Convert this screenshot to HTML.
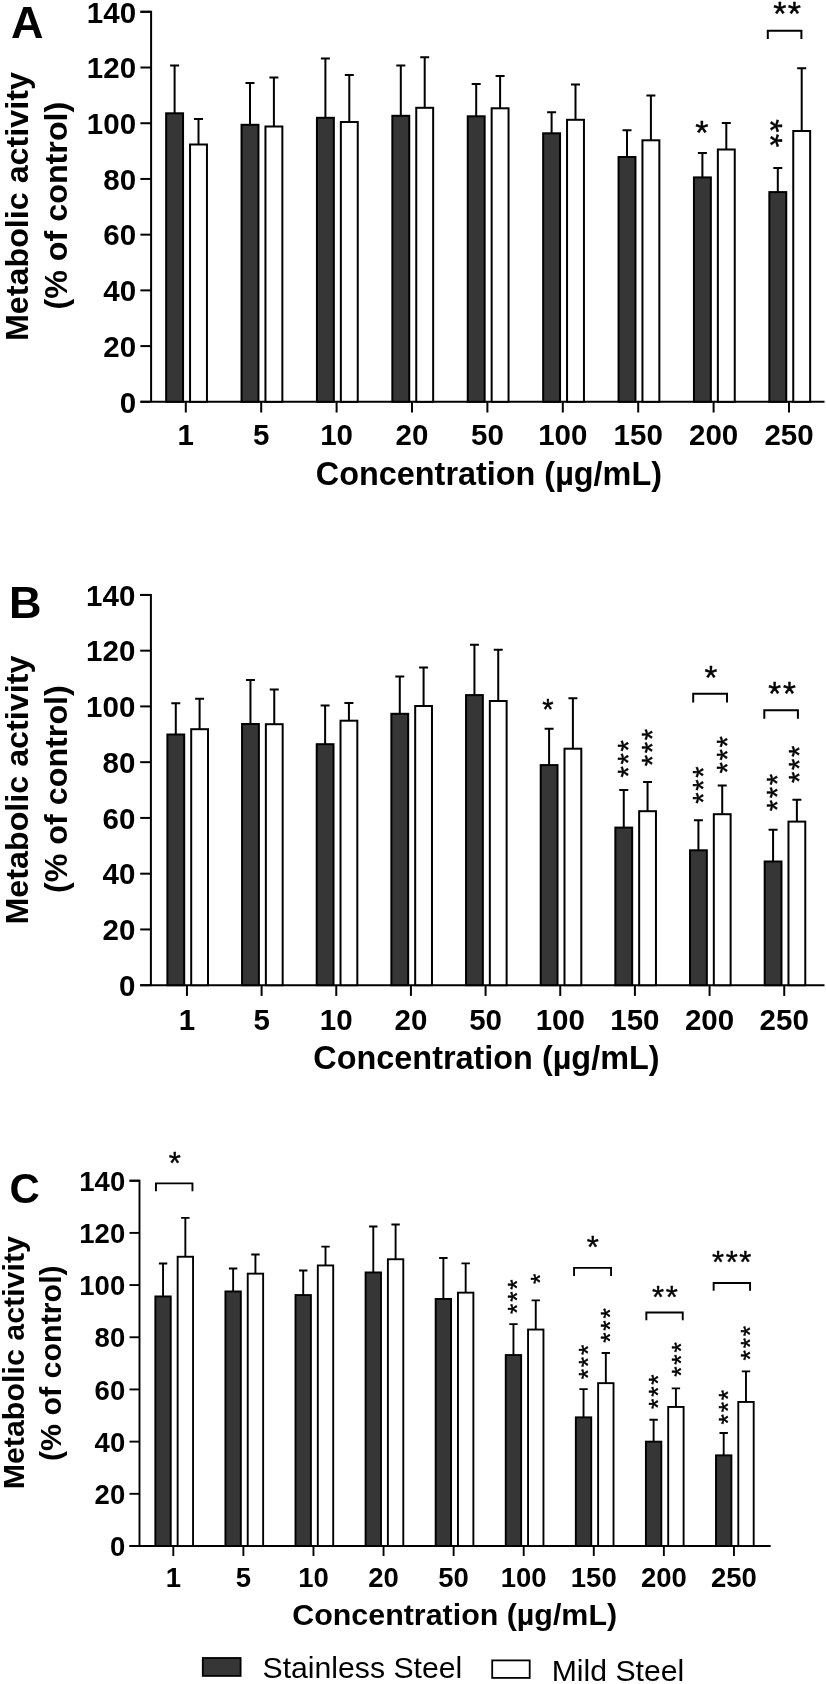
<!DOCTYPE html>
<html><head><meta charset="utf-8"><style>
html,body{margin:0;padding:0;background:#fff;}
body{width:826px;height:1684px;overflow:hidden;}
svg{display:block;filter:grayscale(1);}
</style></head><body>
<svg width="826" height="1684" viewBox="0 0 826 1684">
<rect width="826" height="1684" fill="#fff"/>
<g stroke="#000" stroke-width="2.0" fill="none" stroke-linecap="butt"><path d="M140.4 11.8H151.1V401.8" /><path d="M140.4 401.8H151.1" /><path d="M140.4 346.09H151.1" /><path d="M140.4 290.37H151.1" /><path d="M140.4 234.66H151.1" /><path d="M140.4 178.94H151.1" /><path d="M140.4 123.23H151.1" /><path d="M140.4 67.51H151.1" /><path d="M140.4 11.8H151.1" /><path d="M140.4 401.8H824.5" /><path d="M185.8 401.8v10.7" /><path d="M174.6 113.3V65.4M170.1 65.4H179.1" /><rect x="166.15" y="113.3" width="16.9" height="288.5" fill="#363636" /><path d="M198.5 144.5V119M194 119H203" /><rect x="190.05" y="144.5" width="16.9" height="257.3" fill="#fff" /><path d="M261.2 401.8v10.7" /><path d="M250 124.8V82.9M245.5 82.9H254.5" /><rect x="241.55" y="124.8" width="16.9" height="277" fill="#363636" /><path d="M273.9 126.5V77.4M269.4 77.4H278.4" /><rect x="265.45" y="126.5" width="16.9" height="275.3" fill="#fff" /><path d="M336.6 401.8v10.7" /><path d="M325.4 117.8V58.5M320.9 58.5H329.9" /><rect x="316.95" y="117.8" width="16.9" height="284" fill="#363636" /><path d="M349.3 122V75.1M344.8 75.1H353.8" /><rect x="340.85" y="122" width="16.9" height="279.8" fill="#fff" /><path d="M412 401.8v10.7" /><path d="M400.8 115.8V65.4M396.3 65.4H405.3" /><rect x="392.35" y="115.8" width="16.9" height="286" fill="#363636" /><path d="M424.7 107.8V57.2M420.2 57.2H429.2" /><rect x="416.25" y="107.8" width="16.9" height="294" fill="#fff" /><path d="M487.4 401.8v10.7" /><path d="M476.2 116.3V84.1M471.7 84.1H480.7" /><rect x="467.75" y="116.3" width="16.9" height="285.5" fill="#363636" /><path d="M500.1 108.3V75.9M495.6 75.9H504.6" /><rect x="491.65" y="108.3" width="16.9" height="293.5" fill="#fff" /><path d="M562.8 401.8v10.7" /><path d="M551.6 133.3V112.3M547.1 112.3H556.1" /><rect x="543.15" y="133.3" width="16.9" height="268.5" fill="#363636" /><path d="M575.5 119.8V84.4M571 84.4H580" /><rect x="567.05" y="119.8" width="16.9" height="282" fill="#fff" /><path d="M638.2 401.8v10.7" /><path d="M627 157V130.3M622.5 130.3H631.5" /><rect x="618.55" y="157" width="16.9" height="244.8" fill="#363636" /><path d="M650.9 140.3V95.4M646.4 95.4H655.4" /><rect x="642.45" y="140.3" width="16.9" height="261.5" fill="#fff" /><path d="M713.6 401.8v10.7" /><path d="M702.4 177.4V152.9M697.9 152.9H706.9" /><rect x="693.95" y="177.4" width="16.9" height="224.4" fill="#363636" /><path d="M726.3 149.5V123.1M721.8 123.1H730.8" /><rect x="717.85" y="149.5" width="16.9" height="252.3" fill="#fff" /><path d="M789 401.8v10.7" /><path d="M777.8 192.1V168M773.3 168H782.3" /><rect x="769.35" y="192.1" width="16.9" height="209.7" fill="#363636" /><path d="M801.7 131V68.3M797.2 68.3H806.2" /><rect x="793.25" y="131" width="16.9" height="270.8" fill="#fff" /><path d="M767.8 39V30.7H801.4V39" /></g>
<g font-family="Liberation Sans" font-weight="bold" font-size="29.5" fill="#000"><text x="136.1" y="412.6" text-anchor="end">0</text><text x="136.1" y="356.89" text-anchor="end">20</text><text x="136.1" y="301.17" text-anchor="end">40</text><text x="136.1" y="245.46" text-anchor="end">60</text><text x="136.1" y="189.74" text-anchor="end">80</text><text x="136.1" y="134.03" text-anchor="end">100</text><text x="136.1" y="78.31" text-anchor="end">120</text><text x="136.1" y="22.6" text-anchor="end">140</text><text x="185.8" y="445.4" text-anchor="middle">1</text><text x="261.2" y="445.4" text-anchor="middle">5</text><text x="336.6" y="445.4" text-anchor="middle">10</text><text x="412" y="445.4" text-anchor="middle">20</text><text x="487.4" y="445.4" text-anchor="middle">50</text><text x="562.8" y="445.4" text-anchor="middle">100</text><text x="638.2" y="445.4" text-anchor="middle">150</text><text x="713.6" y="445.4" text-anchor="middle">200</text><text x="789" y="445.4" text-anchor="middle">250</text></g>
<text x="488.9" y="485.2" text-anchor="middle" font-family="Liberation Sans" font-weight="bold" font-size="32.4">Concentration (µg/mL)</text>
<text transform="translate(27.8 206.6) rotate(-90)" text-anchor="middle" font-family="Liberation Sans" font-weight="bold" font-size="32.25">Metabolic activity</text>
<text transform="translate(67.2 205.6) rotate(-90)" text-anchor="middle" font-family="Liberation Sans" font-weight="bold" font-size="32.25">(% of control)</text>
<text x="11" y="37.8" font-family="Liberation Sans" font-weight="bold" font-size="45">A</text>
<text x="701.9" y="144.16" text-anchor="middle" font-family="Liberation Sans" font-size="34" letter-spacing="0" stroke="#000" stroke-width="0.4" stroke-linejoin="round">*</text>
<text x="787.85" y="25.36" text-anchor="middle" font-family="Liberation Sans" font-size="34" letter-spacing="1.4" stroke="#000" stroke-width="0.4" stroke-linejoin="round">**</text>
<text transform="translate(758.99 134.05) rotate(90)" text-anchor="middle" font-family="Liberation Sans" font-size="34" letter-spacing="1.6" stroke="#000" stroke-width="0.4" stroke-linejoin="round">**</text>
<g stroke="#000" stroke-width="2.0" fill="none" stroke-linecap="butt"><path d="M140.2 594.9H150.9V985.2" /><path d="M140.2 985.2H150.9" /><path d="M140.2 929.44H150.9" /><path d="M140.2 873.69H150.9" /><path d="M140.2 817.93H150.9" /><path d="M140.2 762.17H150.9" /><path d="M140.2 706.41H150.9" /><path d="M140.2 650.66H150.9" /><path d="M140.2 594.9H150.9" /><path d="M140.2 985.2H824.5" /><path d="M186.95 985.2v10.7" /><path d="M175.8 734.5V703.3M171.3 703.3H180.3" /><rect x="167.4" y="734.5" width="16.8" height="250.7" fill="#363636" /><path d="M199.6 729.2V698.8M195.1 698.8H204.1" /><rect x="191.2" y="729.2" width="16.8" height="256" fill="#fff" /><path d="M261.61 985.2v10.7" /><path d="M250.46 724V680.1M245.96 680.1H254.96" /><rect x="242.06" y="724" width="16.8" height="261.2" fill="#363636" /><path d="M274.26 724.2V689.6M269.76 689.6H278.76" /><rect x="265.86" y="724.2" width="16.8" height="261" fill="#fff" /><path d="M336.27 985.2v10.7" /><path d="M325.12 744.2V705.5M320.62 705.5H329.62" /><rect x="316.72" y="744.2" width="16.8" height="241" fill="#363636" /><path d="M348.92 720.7V703M344.42 703H353.42" /><rect x="340.52" y="720.7" width="16.8" height="264.5" fill="#fff" /><path d="M410.93 985.2v10.7" /><path d="M399.78 713.8V676.4M395.28 676.4H404.28" /><rect x="391.38" y="713.8" width="16.8" height="271.4" fill="#363636" /><path d="M423.58 706V667.6M419.08 667.6H428.08" /><rect x="415.18" y="706" width="16.8" height="279.2" fill="#fff" /><path d="M485.59 985.2v10.7" /><path d="M474.44 695.1V644.7M469.94 644.7H478.94" /><rect x="466.04" y="695.1" width="16.8" height="290.1" fill="#363636" /><path d="M498.24 701V649.7M493.74 649.7H502.74" /><rect x="489.84" y="701" width="16.8" height="284.2" fill="#fff" /><path d="M560.25 985.2v10.7" /><path d="M549.1 765.1V728.7M544.6 728.7H553.6" /><rect x="540.7" y="765.1" width="16.8" height="220.1" fill="#363636" /><path d="M572.9 748.7V698.3M568.4 698.3H577.4" /><rect x="564.5" y="748.7" width="16.8" height="236.5" fill="#fff" /><path d="M634.91 985.2v10.7" /><path d="M623.76 827.6V790.1M619.26 790.1H628.26" /><rect x="615.36" y="827.6" width="16.8" height="157.6" fill="#363636" /><path d="M647.56 811.2V781.9M643.06 781.9H652.06" /><rect x="639.16" y="811.2" width="16.8" height="174" fill="#fff" /><path d="M709.57 985.2v10.7" /><path d="M698.42 850.3V820.2M693.92 820.2H702.92" /><rect x="690.02" y="850.3" width="16.8" height="134.9" fill="#363636" /><path d="M722.22 814.2V785.5M717.72 785.5H726.72" /><rect x="713.82" y="814.2" width="16.8" height="171" fill="#fff" /><path d="M784.23 985.2v10.7" /><path d="M773.08 861.5V829.8M768.58 829.8H777.58" /><rect x="764.68" y="861.5" width="16.8" height="123.7" fill="#363636" /><path d="M796.88 821.6V799.7M792.38 799.7H801.38" /><rect x="788.48" y="821.6" width="16.8" height="163.6" fill="#fff" /><path d="M693.2 702.4V693.8H727V702.4" /><path d="M764.3 718.8V710.2H797.9V718.8" /></g>
<g font-family="Liberation Sans" font-weight="bold" font-size="29.5" fill="#000"><text x="135.3" y="996" text-anchor="end">0</text><text x="135.3" y="940.24" text-anchor="end">20</text><text x="135.3" y="884.49" text-anchor="end">40</text><text x="135.3" y="828.73" text-anchor="end">60</text><text x="135.3" y="772.97" text-anchor="end">80</text><text x="135.3" y="717.21" text-anchor="end">100</text><text x="135.3" y="661.46" text-anchor="end">120</text><text x="135.3" y="605.7" text-anchor="end">140</text><text x="186.95" y="1029.5" text-anchor="middle">1</text><text x="261.61" y="1029.5" text-anchor="middle">5</text><text x="336.27" y="1029.5" text-anchor="middle">10</text><text x="410.93" y="1029.5" text-anchor="middle">20</text><text x="485.59" y="1029.5" text-anchor="middle">50</text><text x="560.25" y="1029.5" text-anchor="middle">100</text><text x="634.91" y="1029.5" text-anchor="middle">150</text><text x="709.57" y="1029.5" text-anchor="middle">200</text><text x="784.23" y="1029.5" text-anchor="middle">250</text></g>
<text x="486.45" y="1068.6" text-anchor="middle" font-family="Liberation Sans" font-weight="bold" font-size="32.4">Concentration (µg/mL)</text>
<text transform="translate(27.8 790.1) rotate(-90)" text-anchor="middle" font-family="Liberation Sans" font-weight="bold" font-size="32.25">Metabolic activity</text>
<text transform="translate(67.2 789.1) rotate(-90)" text-anchor="middle" font-family="Liberation Sans" font-weight="bold" font-size="32.25">(% of control)</text>
<text x="9" y="617.7" font-family="Liberation Sans" font-weight="bold" font-size="45">B</text>
<text x="547.9" y="719.03" text-anchor="middle" font-family="Liberation Sans" font-size="29" letter-spacing="0" stroke="#000" stroke-width="0.4" stroke-linejoin="round">*</text>
<text x="710.8" y="688.7" text-anchor="middle" font-family="Liberation Sans" font-size="33" letter-spacing="0" stroke="#000" stroke-width="0.4" stroke-linejoin="round">*</text>
<text x="782.9" y="704.6" text-anchor="middle" font-family="Liberation Sans" font-size="33" letter-spacing="1.9" stroke="#000" stroke-width="0.4" stroke-linejoin="round">**</text>
<text transform="translate(637.78 757.9) rotate(-90)" text-anchor="middle" font-family="Liberation Sans" font-size="29" letter-spacing="1.7" stroke="#000" stroke-width="0.4" stroke-linejoin="round">***</text>
<text transform="translate(661.73 746.8) rotate(-90)" text-anchor="middle" font-family="Liberation Sans" font-size="29" letter-spacing="1.7" stroke="#000" stroke-width="0.4" stroke-linejoin="round">***</text>
<text transform="translate(713.13 784.15) rotate(-90)" text-anchor="middle" font-family="Liberation Sans" font-size="29" letter-spacing="1.7" stroke="#000" stroke-width="0.4" stroke-linejoin="round">***</text>
<text transform="translate(736.93 754.05) rotate(-90)" text-anchor="middle" font-family="Liberation Sans" font-size="29" letter-spacing="1.7" stroke="#000" stroke-width="0.4" stroke-linejoin="round">***</text>
<text transform="translate(787.03 791.65) rotate(-90)" text-anchor="middle" font-family="Liberation Sans" font-size="29" letter-spacing="1.7" stroke="#000" stroke-width="0.4" stroke-linejoin="round">***</text>
<text transform="translate(808.93 763.4) rotate(-90)" text-anchor="middle" font-family="Liberation Sans" font-size="29" letter-spacing="1.7" stroke="#000" stroke-width="0.4" stroke-linejoin="round">***</text>
<g stroke="#000" stroke-width="1.9" fill="none" stroke-linecap="butt"><path d="M129.5 1180.7H139.5V1546" /><path d="M129.5 1546H139.5" /><path d="M129.5 1493.81H139.5" /><path d="M129.5 1441.63H139.5" /><path d="M129.5 1389.44H139.5" /><path d="M129.5 1337.26H139.5" /><path d="M129.5 1285.07H139.5" /><path d="M129.5 1232.89H139.5" /><path d="M129.5 1180.7H139.5" /><path d="M129.5 1546H770.7" /><path d="M173.3 1546v10" /><path d="M163.05 1296.45V1263.55M158.85 1263.55H167.25" /><rect x="155.35" y="1296.45" width="15.4" height="249.55" fill="#363636" /><path d="M185.35 1256.75V1217.85M181.15 1217.85H189.55" /><rect x="177.65" y="1256.75" width="15.4" height="289.25" fill="#fff" /><path d="M243.38 1546v10" /><path d="M233.13 1291.45V1268.45M228.93 1268.45H237.33" /><rect x="225.43" y="1291.45" width="15.4" height="254.55" fill="#363636" /><path d="M255.43 1273.65V1254.55M251.23 1254.55H259.63" /><rect x="247.73" y="1273.65" width="15.4" height="272.35" fill="#fff" /><path d="M313.46 1546v10" /><path d="M303.21 1295.05V1270.45M299.01 1270.45H307.41" /><rect x="295.51" y="1295.05" width="15.4" height="250.95" fill="#363636" /><path d="M325.51 1265.45V1246.65M321.31 1246.65H329.71" /><rect x="317.81" y="1265.45" width="15.4" height="280.55" fill="#fff" /><path d="M383.54 1546v10" /><path d="M373.29 1272.45V1226.45M369.09 1226.45H377.49" /><rect x="365.59" y="1272.45" width="15.4" height="273.55" fill="#363636" /><path d="M395.59 1259.25V1224.55M391.39 1224.55H399.79" /><rect x="387.89" y="1259.25" width="15.4" height="286.75" fill="#fff" /><path d="M453.62 1546v10" /><path d="M443.37 1298.95V1257.95M439.17 1257.95H447.57" /><rect x="435.67" y="1298.95" width="15.4" height="247.05" fill="#363636" /><path d="M465.67 1292.65V1263.35M461.47 1263.35H469.87" /><rect x="457.97" y="1292.65" width="15.4" height="253.35" fill="#fff" /><path d="M523.7 1546v10" /><path d="M513.45 1355.05V1324.15M509.25 1324.15H517.65" /><rect x="505.75" y="1355.05" width="15.4" height="190.95" fill="#363636" /><path d="M535.75 1329.55V1300.35M531.55 1300.35H539.95" /><rect x="528.05" y="1329.55" width="15.4" height="216.45" fill="#fff" /><path d="M593.78 1546v10" /><path d="M583.53 1417.35V1389.15M579.33 1389.15H587.73" /><rect x="575.83" y="1417.35" width="15.4" height="128.65" fill="#363636" /><path d="M605.83 1383.15V1353.05M601.63 1353.05H610.03" /><rect x="598.13" y="1383.15" width="15.4" height="162.85" fill="#fff" /><path d="M663.86 1546v10" /><path d="M653.61 1441.65V1419.75M649.41 1419.75H657.81" /><rect x="645.91" y="1441.65" width="15.4" height="104.35" fill="#363636" /><path d="M675.91 1406.95V1388.35M671.71 1388.35H680.11" /><rect x="668.21" y="1406.95" width="15.4" height="139.05" fill="#fff" /><path d="M733.94 1546v10" /><path d="M723.69 1455.35V1432.95M719.49 1432.95H727.89" /><rect x="715.99" y="1455.35" width="15.4" height="90.65" fill="#363636" /><path d="M745.99 1401.95V1371.35M741.79 1371.35H750.19" /><rect x="738.29" y="1401.95" width="15.4" height="144.05" fill="#fff" /><path d="M155.95 1191.2V1183.35H192.45V1191.2" /><path d="M574.05 1276V1267.85H611.05V1276" /><path d="M646.35 1320.3V1312.45H682.75V1320.3" /><path d="M713.65 1290.7V1282.95H750.05V1290.7" /></g>
<g font-family="Liberation Sans" font-weight="bold" font-size="27.5" fill="#000"><text x="125.2" y="1556.1" text-anchor="end">0</text><text x="125.2" y="1503.91" text-anchor="end">20</text><text x="125.2" y="1451.73" text-anchor="end">40</text><text x="125.2" y="1399.54" text-anchor="end">60</text><text x="125.2" y="1347.36" text-anchor="end">80</text><text x="125.2" y="1295.17" text-anchor="end">100</text><text x="125.2" y="1242.99" text-anchor="end">120</text><text x="125.2" y="1190.8" text-anchor="end">140</text><text x="173.3" y="1587.3" text-anchor="middle">1</text><text x="243.38" y="1587.3" text-anchor="middle">5</text><text x="313.46" y="1587.3" text-anchor="middle">10</text><text x="383.54" y="1587.3" text-anchor="middle">20</text><text x="453.62" y="1587.3" text-anchor="middle">50</text><text x="523.7" y="1587.3" text-anchor="middle">100</text><text x="593.78" y="1587.3" text-anchor="middle">150</text><text x="663.86" y="1587.3" text-anchor="middle">200</text><text x="733.94" y="1587.3" text-anchor="middle">250</text></g>
<text x="454.7" y="1624.8" text-anchor="middle" font-family="Liberation Sans" font-weight="bold" font-size="30.4">Concentration (µg/mL)</text>
<text transform="translate(24.1 1362.7) rotate(-90)" text-anchor="middle" font-family="Liberation Sans" font-weight="bold" font-size="30.4">Metabolic activity</text>
<text transform="translate(61.1 1363.2) rotate(-90)" text-anchor="middle" font-family="Liberation Sans" font-weight="bold" font-size="30.4">(% of control)</text>
<text x="9.5" y="1202.5" font-family="Liberation Sans" font-weight="bold" font-size="42">C</text>
<text x="174.85" y="1173.76" text-anchor="middle" font-family="Liberation Sans" font-size="31" letter-spacing="0" stroke="#000" stroke-width="0.4" stroke-linejoin="round">*</text>
<text transform="translate(549.3 1278.9) rotate(-90)" text-anchor="middle" font-family="Liberation Sans" font-size="26.5" letter-spacing="0" stroke="#000" stroke-width="0.4" stroke-linejoin="round">*</text>
<text x="592.8" y="1258.26" text-anchor="middle" font-family="Liberation Sans" font-size="31" letter-spacing="0" stroke="#000" stroke-width="0.4" stroke-linejoin="round">*</text>
<text x="665.65" y="1308.37" text-anchor="middle" font-family="Liberation Sans" font-size="31" letter-spacing="1.7" stroke="#000" stroke-width="0.4" stroke-linejoin="round">**</text>
<text x="732.45" y="1273.31" text-anchor="middle" font-family="Liberation Sans" font-size="31" letter-spacing="1.5" stroke="#000" stroke-width="0.4" stroke-linejoin="round">***</text>
<text transform="translate(526.4 1295.78) rotate(-90)" text-anchor="middle" font-family="Liberation Sans" font-size="26.5" letter-spacing="1.85" stroke="#000" stroke-width="0.4" stroke-linejoin="round">***</text>
<text transform="translate(596.9 1361.08) rotate(-90)" text-anchor="middle" font-family="Liberation Sans" font-size="26.5" letter-spacing="1.85" stroke="#000" stroke-width="0.4" stroke-linejoin="round">***</text>
<text transform="translate(619.3 1324.58) rotate(-90)" text-anchor="middle" font-family="Liberation Sans" font-size="26.5" letter-spacing="1.85" stroke="#000" stroke-width="0.4" stroke-linejoin="round">***</text>
<text transform="translate(667.1 1390.78) rotate(-90)" text-anchor="middle" font-family="Liberation Sans" font-size="26.5" letter-spacing="1.85" stroke="#000" stroke-width="0.4" stroke-linejoin="round">***</text>
<text transform="translate(689.55 1358.62) rotate(-90)" text-anchor="middle" font-family="Liberation Sans" font-size="26.5" letter-spacing="1.85" stroke="#000" stroke-width="0.4" stroke-linejoin="round">***</text>
<text transform="translate(737.25 1406.23) rotate(-90)" text-anchor="middle" font-family="Liberation Sans" font-size="26.5" letter-spacing="1.85" stroke="#000" stroke-width="0.4" stroke-linejoin="round">***</text>
<text transform="translate(759.4 1342.23) rotate(-90)" text-anchor="middle" font-family="Liberation Sans" font-size="26.5" letter-spacing="1.85" stroke="#000" stroke-width="0.4" stroke-linejoin="round">***</text>
<rect x="202.8" y="1658" width="37.8" height="17.9" fill="#363636" stroke="#000" stroke-width="1.8"/>
<rect x="492.2" y="1660.4" width="37.5" height="17.5" fill="#fff" stroke="#000" stroke-width="1.8"/>
<text x="262.5" y="1678.2" font-family="Liberation Sans" font-size="30.2">Stainless Steel</text>
<text x="551.7" y="1680.8" font-family="Liberation Sans" font-size="30.2">Mild Steel</text>
</svg>
</body></html>
